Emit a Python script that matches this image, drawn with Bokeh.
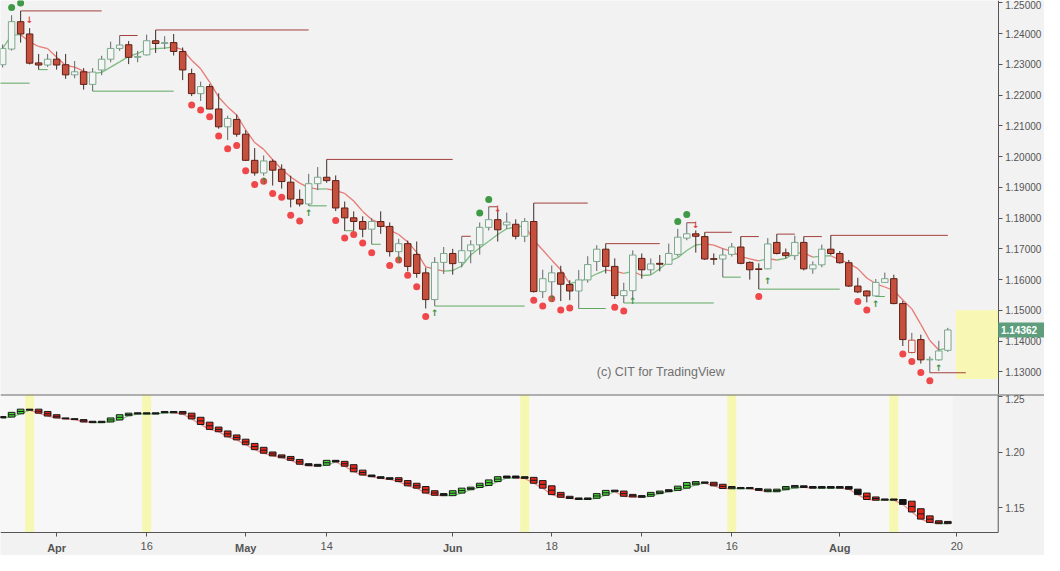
import pandas as pd
from bokeh.plotting import figure
from bokeh.layouts import column
from bokeh.models import Range1d, FixedTicker, NumeralTickFormatter, Span, LinearAxis
from bokeh.core.properties import value
from bokeh.embed import file_html
from bokeh.resources import INLINE

# ---------------- data (EURUSD daily, bar 0 = 2 Apr 2018) ----------------
bar_index = list(range(-6, 100))
opens = [1.2299, 1.2350, 1.2439, 1.2399, 1.2305, 1.2298, 1.2317, 1.2299, 1.2266, 1.2276,
         1.2235, 1.2282, 1.2317, 1.2352, 1.2364, 1.2323, 1.2331, 1.2377, 1.2368, 1.2371,
         1.2342, 1.2270, 1.2205, 1.2228, 1.2155, 1.2097, 1.2121, 1.2073, 1.1988, 1.1947,
         1.1985, 1.1959, 1.1917, 1.1861, 1.1846, 1.1912, 1.1933, 1.1922, 1.1833, 1.1801,
         1.1789, 1.1764, 1.1789, 1.1773, 1.1691, 1.1717, 1.1682, 1.1622, 1.1535, 1.1656,
         1.1685, 1.1656, 1.1694, 1.1713, 1.1770, 1.1795, 1.1778, 1.1780, 1.1741, 1.1789,
         1.1561, 1.1593, 1.1622, 1.1584, 1.1563, 1.1599, 1.1659, 1.1699, 1.1643, 1.1548,
         1.1564, 1.1669, 1.1632, 1.1653, 1.1650, 1.1682, 1.1735, 1.1749, 1.1740, 1.1668,
         1.1667, 1.1682, 1.1706, 1.1656, 1.1635, 1.1635, 1.1721, 1.1687, 1.1678, 1.1721,
         1.1635, 1.1648, 1.1699, 1.1685, 1.1655, 1.1579, 1.1563, 1.1547, 1.1591, 1.1603,
         1.1522, 1.1363, 1.1405, 1.1339, 1.1339, 1.1370]
highs = [1.2365, 1.2460, 1.2474, 1.2418, 1.2334, 1.2334, 1.2342, 1.2334, 1.2311, 1.2288,
         1.2288, 1.2328, 1.2374, 1.2394, 1.2376, 1.2344, 1.2397, 1.2412, 1.2392, 1.2399,
         1.2355, 1.2286, 1.2244, 1.2236, 1.2206, 1.2133, 1.2137, 1.2086, 1.2028, 1.2004,
         1.1991, 1.1975, 1.1938, 1.1893, 1.1944, 1.1966, 1.1991, 1.1939, 1.1854, 1.1822,
         1.1806, 1.1800, 1.1822, 1.1786, 1.1733, 1.1727, 1.1724, 1.1639, 1.1673, 1.1706,
         1.1700, 1.1741, 1.1728, 1.1786, 1.1837, 1.1831, 1.1818, 1.1796, 1.1800, 1.1849,
         1.1632, 1.1646, 1.1645, 1.1598, 1.1631, 1.1676, 1.1712, 1.1717, 1.1669, 1.1590,
         1.1695, 1.1685, 1.1669, 1.1680, 1.1717, 1.1765, 1.1785, 1.1760, 1.1754, 1.1685,
         1.1701, 1.1719, 1.1740, 1.1659, 1.1653, 1.1735, 1.1748, 1.1701, 1.1743, 1.1740,
         1.1659, 1.1714, 1.1744, 1.1693, 1.1664, 1.1606, 1.1565, 1.1602, 1.1623, 1.1616,
         1.1531, 1.1427, 1.1421, 1.1350, 1.1401, 1.1443]
lows = [1.2290, 1.2345, 1.2371, 1.2300, 1.2283, 1.2292, 1.2283, 1.2253, 1.2255, 1.2218,
        1.2213, 1.2265, 1.2307, 1.2344, 1.2301, 1.2307, 1.2329, 1.2337, 1.2350, 1.2329,
        1.2249, 1.2197, 1.2181, 1.2154, 1.2091, 1.2054, 1.2065, 1.1986, 1.1938, 1.1938,
        1.1906, 1.1896, 1.1835, 1.1838, 1.1840, 1.1891, 1.1915, 1.1823, 1.1759, 1.1759,
        1.1738, 1.1715, 1.1749, 1.1675, 1.1664, 1.1627, 1.1606, 1.1506, 1.1514, 1.1618,
        1.1616, 1.1640, 1.1653, 1.1681, 1.1760, 1.1724, 1.1765, 1.1731, 1.1722, 1.1558,
        1.1540, 1.1540, 1.1530, 1.1533, 1.1506, 1.1590, 1.1628, 1.1620, 1.1537, 1.1524,
        1.1540, 1.1603, 1.1617, 1.1627, 1.1648, 1.1675, 1.1728, 1.1688, 1.1664, 1.1648,
        1.1608, 1.1675, 1.1650, 1.1600, 1.1569, 1.1634, 1.1682, 1.1669, 1.1664, 1.1630,
        1.1619, 1.1640, 1.1680, 1.1652, 1.1576, 1.1556, 1.1526, 1.1545, 1.1589, 1.1520,
        1.1384, 1.1360, 1.1327, 1.1297, 1.1336, 1.1365]
closes = [1.2352, 1.2439, 1.2399, 1.2304, 1.2298, 1.2317, 1.2298, 1.2266, 1.2276, 1.2235,
          1.2275, 1.2317, 1.2352, 1.2363, 1.2323, 1.2326, 1.2377, 1.2368, 1.2371, 1.2342,
          1.2282, 1.2205, 1.2228, 1.2155, 1.2097, 1.2124, 1.2073, 1.1988, 1.1947, 1.1986,
          1.1956, 1.1919, 1.1862, 1.1846, 1.1912, 1.1933, 1.1922, 1.1833, 1.1801, 1.1789,
          1.1764, 1.1789, 1.1773, 1.1691, 1.1717, 1.1643, 1.1620, 1.1535, 1.1656, 1.1685,
          1.1652, 1.1694, 1.1713, 1.1770, 1.1795, 1.1762, 1.1787, 1.1741, 1.1789, 1.1561,
          1.1603, 1.1622, 1.1585, 1.1563, 1.1599, 1.1649, 1.1699, 1.1643, 1.1548, 1.1564,
          1.1680, 1.1632, 1.1651, 1.1650, 1.1685, 1.1738, 1.1749, 1.1741, 1.1667, 1.1666,
          1.1680, 1.1706, 1.1653, 1.1632, 1.1633, 1.1716, 1.1685, 1.1678, 1.1721, 1.1635,
          1.1648, 1.1699, 1.1685, 1.1655, 1.1579, 1.1560, 1.1547, 1.1591, 1.1603, 1.1522,
          1.1405, 1.1403, 1.1339, 1.1341, 1.1368, 1.14362]
last_price = 1.14362

# signal dots
red_dot_idx = [15, 16, 17, 18, 19, 20, 21, 22, 23, 24, 25, 26, 27, 31, 32, 33, 34, 35, 37, 38,
               39, 40, 41, 53, 54, 55, 56, 57, 62, 63, 78, 89, 90, 94, 95, 96, 97]
red_dot_val = [1.2168, 1.2152, 1.2130, 1.2067, 1.2026, 1.2036, 1.1954, 1.1909, 1.1920, 1.1880,
               1.1868, 1.1809, 1.1791, 1.1792, 1.1735, 1.1747, 1.1719, 1.1687, 1.1646, 1.1664,
               1.1614, 1.1577, 1.1480, 1.1533, 1.1514, 1.1538, 1.1501, 1.1508, 1.1510, 1.1498,
               1.1545, 1.1529, 1.1501, 1.1358, 1.1334, 1.1298, 1.1271]
green_dot_idx = [-5, -4, 47, 48, 69, 70]
green_dot_val = [1.2485, 1.2500, 1.1817, 1.1861, 1.1789, 1.1812]
up_mark_idx = [23, 28, 38, 42, 55, 64, 79, 91, 98]
up_mark_val = [1.1920, 1.1817, 1.1664, 1.1490, 1.1538, 1.1532, 1.1596, 1.1522, 1.1311]
down_mark_idx = [-3, 49, 71]
down_mark_val = [1.2443, 1.1830, 1.1778]

# resistance / support levels
res_from = [-4, 7, 11, 30, 45, 48, 53, 61, 70, 72, 76, 80, 83, 86, 97]
res_to = [5, 9, 28, 44, 46, 49, 59, 67, 71, 75, 78, 82, 85, 99, 101]
res_level = [1.2474, 1.2394, 1.2412, 1.1991, 1.1741, 1.1837, 1.1849, 1.1717, 1.1785, 1.1754,
             1.1740, 1.1748, 1.1740, 1.1744, 1.1297]
sup_from = [-7, -2, 4, 28, 32, 35, 42, 58, 63, 74, 78, 91]
sup_to = [-3, -1, 13, 30, 33, 36, 52, 61, 73, 76, 87, 92]
sup_level = [1.2239, 1.2283, 1.2213, 1.1840, 1.1759, 1.1715, 1.1514, 1.1506, 1.1524, 1.1608,
             1.1569, 1.1545]

# target zone
zone_from = 99.9
zone_top = 1.1500
zone_bottom = 1.1277

# lower pane: smoothed trend boxes
ind_hi = [1.2320, 1.2357, 1.2386, 1.2386, 1.2386, 1.2365, 1.2336, 1.2307, 1.2300, 1.2292,
          1.2277, 1.2277, 1.2307, 1.2336, 1.2350, 1.2353, 1.2353, 1.2353, 1.2365, 1.2365,
          1.2365, 1.2350, 1.2313, 1.2269, 1.2225, 1.2190, 1.2154, 1.2116, 1.2078, 1.2043,
          1.2001, 1.1975, 1.1961, 1.1934, 1.1896, 1.1890, 1.1926, 1.1926, 1.1917, 1.1887,
          1.1838, 1.1794, 1.1779, 1.1770, 1.1770, 1.1744, 1.1720, 1.1691, 1.1653, 1.1627,
          1.1653, 1.1676, 1.1685, 1.1720, 1.1750, 1.1779, 1.1785, 1.1785, 1.1779, 1.1773,
          1.1744, 1.1697, 1.1638, 1.1603, 1.1588, 1.1588, 1.1627, 1.1656, 1.1658, 1.1650,
          1.1620, 1.1609, 1.1638, 1.1650, 1.1662, 1.1694, 1.1726, 1.1735, 1.1732, 1.1729,
          1.1711, 1.1691, 1.1682, 1.1682, 1.1673, 1.1667, 1.1667, 1.1691, 1.1700, 1.1697,
          1.1691, 1.1691, 1.1691, 1.1691, 1.1691, 1.1667, 1.1632, 1.1597, 1.1579, 1.1579,
          1.1574, 1.1559, 1.1491, 1.1427, 1.1383, 1.1377]
ind_lo = [1.2307, 1.2315, 1.2344, 1.2377, 1.2350, 1.2324, 1.2307, 1.2298, 1.2292, 1.2271,
          1.2265, 1.2265, 1.2271, 1.2289, 1.2327, 1.2342, 1.2342, 1.2342, 1.2353, 1.2353,
          1.2342, 1.2298, 1.2248, 1.2204, 1.2183, 1.2137, 1.2110, 1.2066, 1.2022, 1.1990,
          1.1966, 1.1949, 1.1926, 1.1891, 1.1878, 1.1873, 1.1882, 1.1911, 1.1873, 1.1823,
          1.1794, 1.1779, 1.1764, 1.1755, 1.1735, 1.1697, 1.1676, 1.1632, 1.1612, 1.1609,
          1.1609, 1.1632, 1.1662, 1.1682, 1.1700, 1.1735, 1.1767, 1.1767, 1.1764, 1.1720,
          1.1676, 1.1618, 1.1594, 1.1583, 1.1574, 1.1574, 1.1585, 1.1612, 1.1644, 1.1603,
          1.1597, 1.1594, 1.1603, 1.1627, 1.1644, 1.1656, 1.1676, 1.1706, 1.1720, 1.1697,
          1.1673, 1.1671, 1.1671, 1.1671, 1.1656, 1.1644, 1.1644, 1.1662, 1.1679, 1.1682,
          1.1676, 1.1676, 1.1676, 1.1676, 1.1667, 1.1618, 1.1574, 1.1568, 1.1568, 1.1568,
          1.1530, 1.1462, 1.1398, 1.1368, 1.1357, 1.1357]
ind_trend = list("fuufdddffdffuuufffffddddddddddddddff" "ufdddfffdddddfuuuuuufffdddddffuufddfuufuuufddufff"
                 "uuuufffffffdddffdddddf")
trend_flag_idx = [-3, 10, 52, 75, 93]

tick_idx = [0, 10, 21, 30, 44, 55, 65, 75, 87, 100]
tick_text = ["Apr", "16", "May", "14", "Jun", "18", "Jul", "16", "Aug", "20"]
month_ticks = {"Apr", "May", "Jun", "Jul", "Aug"}
top_ticks = [round(1.13 + 0.01 * k, 2) for k in range(13)]
bottom_ticks = [1.15, 1.20, 1.25]

# ---------------- layout ----------------
W = 1044
H_TOP = 394
H_BOT = 161
FRAME_BOT = 138          # height of the lower pane itself; the rest holds the time labels
BG = "#f2f2f2"
FONT = "Liberation Sans"
AX = "#555555"

x_start, x_end = -6.236, 109.74
axis_x = 104.6          # price scale position (bar units)
xr = Range1d(x_start, x_end)
yt0, yt1 = 1.12263, 1.25079
yb0, yb1 = 1.12775, 1.25176
yb_lab = yb0 - (yb1 - yb0) * (H_BOT - FRAME_BOT) / FRAME_BOT


def style_axis(ax, size="10px", bold=False):
    ax.axis_line_color = AX
    ax.major_tick_line_color = AX
    ax.major_tick_out = 4
    ax.major_tick_in = 0
    ax.minor_tick_line_color = None
    ax.major_label_text_font = FONT
    ax.major_label_text_font_size = size
    ax.major_label_text_color = AX
    ax.major_label_standoff = 3
    if bold:
        ax.major_label_text_font_style = "bold"


p1 = figure(width=W, height=H_TOP, x_range=xr, y_range=Range1d(yt0, yt1),
            output_backend="svg", toolbar_location=None, x_axis_location=None,
            y_axis_location=None, min_border_left=0, min_border_right=0,
            min_border_top=0, min_border_bottom=0, background_fill_color=BG,
            border_fill_color=BG, outline_line_color=None)
p1.grid.visible = False
ya = LinearAxis(ticker=FixedTicker(ticks=top_ticks), formatter=NumeralTickFormatter(format="0.00000"),
                fixed_location=axis_x)
style_axis(ya)
p1.add_layout(ya, "right")

# target zone
p1.quad(left=[zone_from], right=[axis_x], top=[zone_top], bottom=[zone_bottom],
        fill_color="#f8f8b4", line_color=None)

# moving average of closes, coloured by slope
ma = pd.Series(closes).rolling(5, min_periods=1).mean().tolist()
seg_col = ["#7cbc80" if ma[k + 1] >= ma[k] else "#e77a74" for k in range(len(ma) - 1)]
p1.segment(x0=bar_index[:-1], y0=ma[:-1], x1=bar_index[1:], y1=ma[1:], line_color=seg_col,
           line_width=1.3)

# levels
p1.segment(x0=res_from, x1=res_to, y0=res_level, y1=res_level, line_color="#a3403c", line_width=1)
p1.segment(x0=sup_from, x1=sup_to, y0=sup_level, y1=sup_level, line_color="#5fa862", line_width=1)

# candles
prev_close = [closes[0]] + closes[:-1]
wick_col = []
groups = {"bear": ([], [], []), "bull": ([], [], []), "bullred": ([], [], [])}
for k, i in enumerate(bar_index):
    o, c = opens[k], closes[k]
    if c < o:
        g = "bear"
        wick_col.append("#3e2c27")
    elif c >= prev_close[k]:
        g = "bull"
        wick_col.append("#62676a")
    else:
        g = "bullred"
        wick_col.append("#62676a")
    groups[g][0].append(i)
    groups[g][1].append(max(o, c))
    groups[g][2].append(min(o, c))
p1.segment(x0=bar_index, x1=bar_index, y0=highs, y1=lows, line_color=wick_col, line_width=1)
p1.vbar(x=groups["bear"][0], top=groups["bear"][1], bottom=groups["bear"][2], width=0.72,
        fill_color="#c5503e", line_color="#5e2016", line_width=1)
p1.vbar(x=groups["bull"][0], top=groups["bull"][1], bottom=groups["bull"][2], width=0.72,
        fill_color="#f5f5f5", line_color="#7aa98c", line_width=1)
p1.vbar(x=groups["bullred"][0], top=groups["bullred"][1], bottom=groups["bullred"][2], width=0.72,
        fill_color="#f5f5f5", line_color="#c5503e", line_width=1)

# dots and markers
p1.scatter(x=red_dot_idx, y=red_dot_val, size=7, fill_color="#f0474a", line_color=None)
p1.scatter(x=green_dot_idx, y=green_dot_val, size=7, fill_color="#3f9a45", line_color=None)
p1.text(x=up_mark_idx, y=up_mark_val, text=["↑"] * len(up_mark_idx), text_align="center",
        text_baseline="middle", text_font_size="9px", text_color="#3a8f40",
        text_font=value("DejaVu Sans"), text_font_style="bold")
p1.text(x=down_mark_idx, y=down_mark_val, text=["↓"] * len(down_mark_idx), text_align="center",
        text_baseline="middle", text_font_size="9px", text_color="#e03c3c",
        text_font=value("DejaVu Sans"), text_font_style="bold")

# watermark
p1.text(x=[60.0], y=[1.1300], text=["(c) CIT for TradingView"], text_font=value(FONT),
        text_font_size="12.5px", text_color="#707070", text_baseline="middle")

# last-price badge on the price scale
px_per_price = H_TOP / (yt1 - yt0)
half_h = 7.5 / px_per_price
badge = p1.quad(left=[axis_x], right=[x_end], top=[last_price + half_h], bottom=[last_price - half_h],
                fill_color="#5e9e7d", line_color=None)
badge.level = "overlay"
badge_t = p1.text(x=[axis_x + 0.3], y=[last_price], text=["%.5f" % last_price],
                  text_font=value(FONT), text_font_size="10px", text_font_style="bold",
                  text_color="#ffffff", text_baseline="middle", text_align="left")
badge_t.level = "overlay"

# ---------------- lower pane (its frame also holds the time-scale strip) ----------------
p2 = figure(width=W, height=H_BOT, x_range=xr, y_range=Range1d(yb_lab, yb1),
            output_backend="svg", toolbar_location=None, y_axis_location=None,
            x_axis_location=None, min_border_left=0, min_border_right=0, min_border_top=0,
            min_border_bottom=0, background_fill_color=BG, border_fill_color=BG,
            outline_line_color=None)
p2.grid.visible = False
p2.quad(left=[x_start - 1], right=[99.55], top=[yb1], bottom=[yb0], fill_color="#f7f7f7",
        line_color=None)
p2.vbar(x=trend_flag_idx, width=1.0, top=yb1, bottom=yb0, fill_color="#f6f8b2", line_color=None)

lc = ["#86c884" if ind_lo[k + 1] >= ind_lo[k] else "#f08c8a" for k in range(len(ind_lo) - 1)]
p2.segment(x0=bar_index[:-1], y0=ind_lo[:-1], x1=bar_index[1:], y1=ind_lo[1:], line_color=lc,
           line_width=1.2)
box_col = {"d": "#e3261b", "u": "#47d536", "f": "#111111"}
p2.vbar(x=bar_index, top=ind_hi, bottom=ind_lo, width=0.74,
        fill_color=[box_col[t] for t in ind_trend], line_color="#1a1a1a", line_width=1)
mid = [(a + b) / 2 for a, b in zip(ind_hi, ind_lo)]
p2.segment(x0=[i - 0.37 for i in bar_index], x1=[i + 0.37 for i in bar_index], y0=mid, y1=mid,
           line_color="#1a1a1a", line_width=1)
p2.add_layout(Span(location=yb1, dimension="width", line_color="#666666", line_width=2))
# time-scale base line and price-scale line of the lower pane
p2.segment(x0=[x_start], x1=[axis_x], y0=[yb0], y1=[yb0], line_color=AX, line_width=1)
p2.segment(x0=[axis_x], x1=[axis_x], y0=[yb0], y1=[yb1], line_color=AX, line_width=1)

ya2 = LinearAxis(ticker=FixedTicker(ticks=bottom_ticks), formatter=NumeralTickFormatter(format="0.00"),
                 fixed_location=axis_x)
style_axis(ya2)
ya2.axis_line_color = None
p2.add_layout(ya2, "right")

month_idx = [t for t, s in zip(tick_idx, tick_text) if s in month_ticks]
day_idx = [t for t, s in zip(tick_idx, tick_text) if s not in month_ticks]
xa_m = LinearAxis(ticker=FixedTicker(ticks=month_idx), fixed_location=yb0,
                  major_label_overrides={t: s for t, s in zip(tick_idx, tick_text) if s in month_ticks})
xa_d = LinearAxis(ticker=FixedTicker(ticks=day_idx), fixed_location=yb0,
                  major_label_overrides={t: s for t, s in zip(tick_idx, tick_text) if s not in month_ticks})
style_axis(xa_m, size="11px", bold=True)
style_axis(xa_d, size="11px")
for ax in (xa_m, xa_d):
    ax.axis_line_color = None
    ax.major_label_standoff = 5
    p2.add_layout(ax, "below")

layout = column(p1, p2, spacing=0)
open("out.html", "w").write(file_html(layout, INLINE))
